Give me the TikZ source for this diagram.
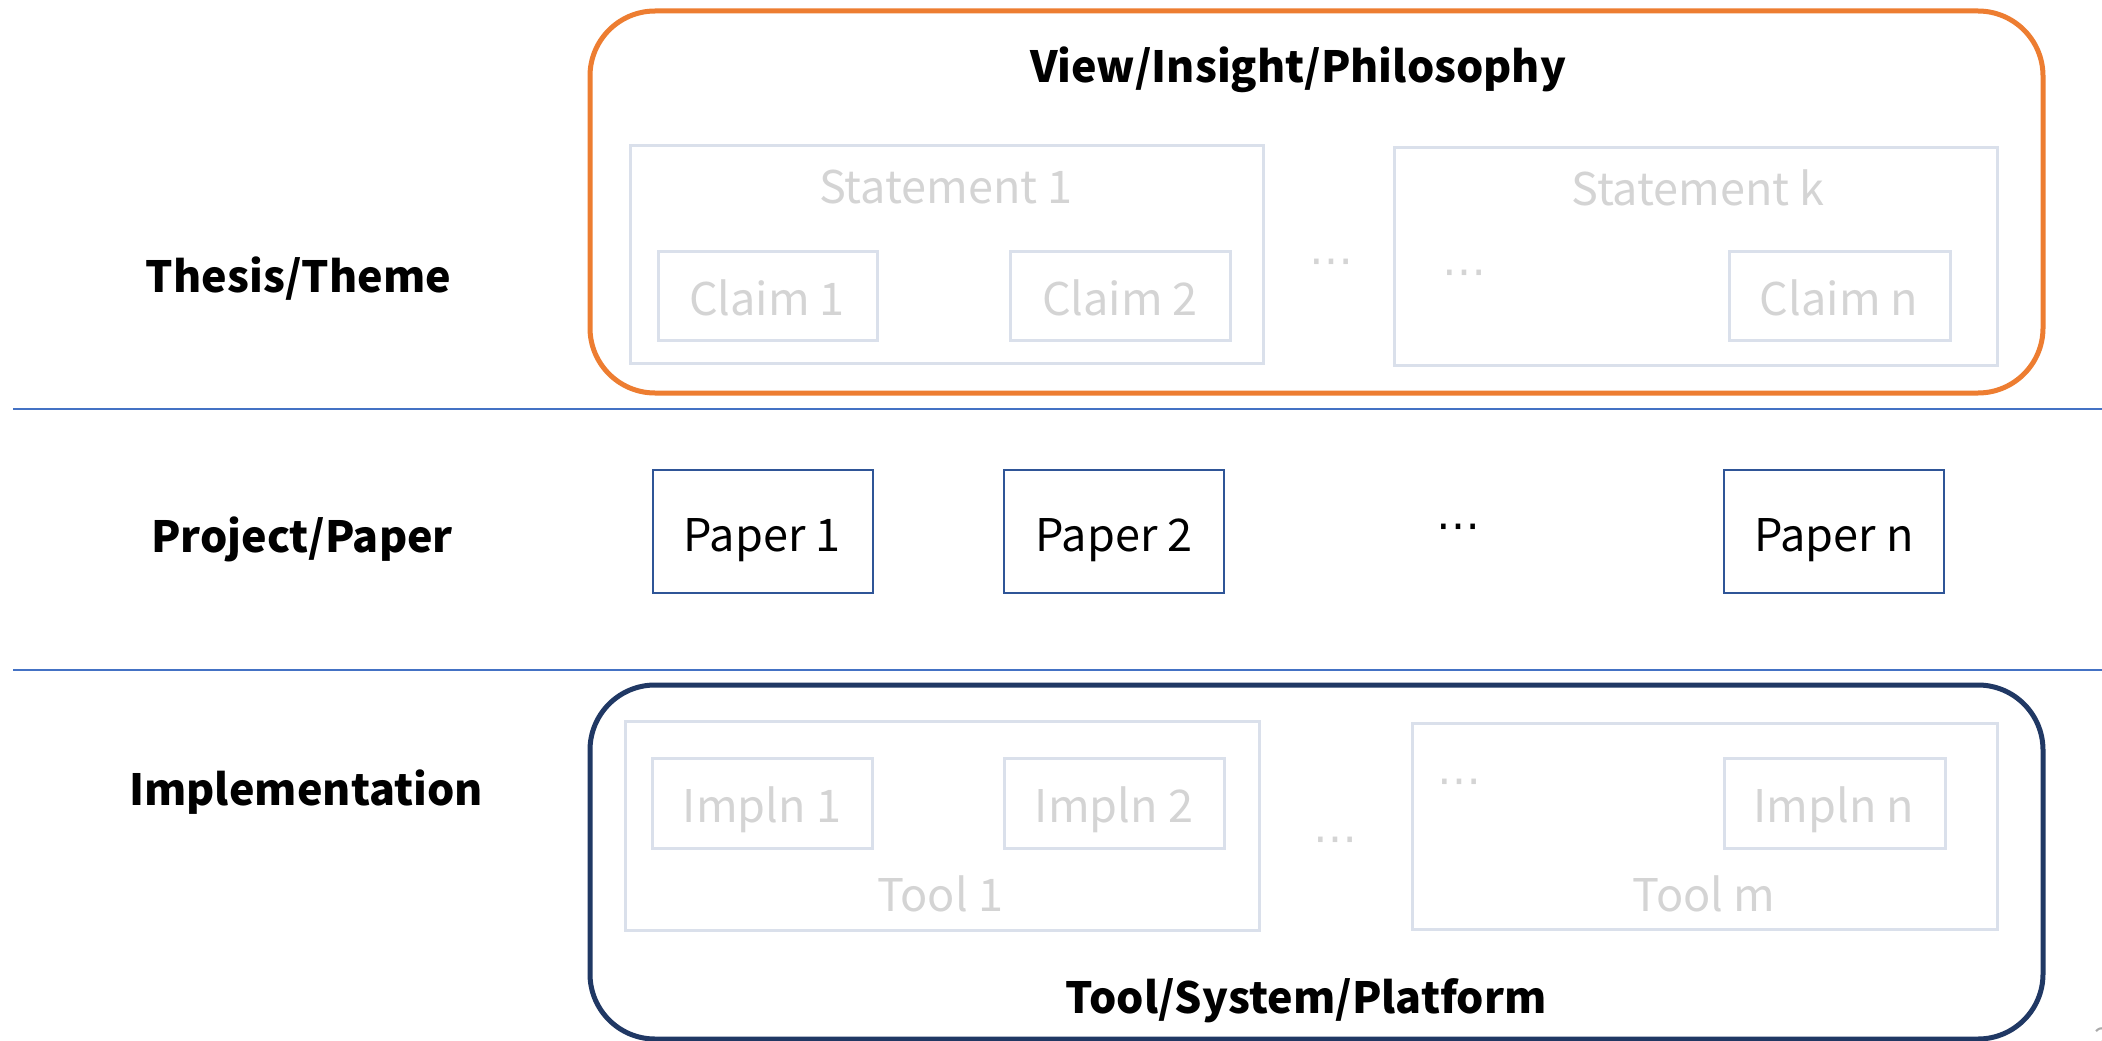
\documentclass[tikz,border=0pt]{standalone}
\usepackage{fontspec}
\setmainfont{Noto Sans CJK SC}
\newfontfamily\symfont{DejaVu Sans}
\definecolor{orangeframe}{HTML}{ED7D31}
\definecolor{navyframe}{HTML}{203864}
\definecolor{paperblue}{HTML}{2F5597}
\definecolor{rulerblue}{HTML}{4472C4}
\definecolor{lightbd}{HTML}{DAE0EB}
\definecolor{lighttxt}{HTML}{D4D4D4}
\begin{document}
\begin{tikzpicture}[x=1pt,y=-1pt,
  outerframe/.style={draw, line width=5pt, rounded corners=65pt, inner sep=0pt},
  lightbox/.style={draw=lightbd, line width=3pt, inner sep=0pt},
  paperbox/.style={draw=paperblue, line width=2.5pt, inner sep=0pt},
  ghost/.style={text=lighttxt, font=\fontsize{45}{50}\selectfont, inner sep=0pt, anchor=base},
  heading/.style={font=\bfseries\fontsize{43}{48}\selectfont, inner sep=0pt, anchor=base},
  papertext/.style={font=\fontsize{45}{50}\selectfont, inner sep=0pt, anchor=base},
  ruler/.style={draw=rulerblue, line width=1.8pt},
  dotsmark/.style={font=\symfont\fontsize{44}{44}\selectfont, inner sep=0pt},
  ghostdots/.style={dotsmark, text=lighttxt},
]
\useasboundingbox (0,0) rectangle (2102,1041);
\fill[white] (0,0) rectangle (2102,1041);

% separators
\coordinate (r1a) at (13,409);
\coordinate (r1b) at (2102,409);
\coordinate (r2a) at (13,670);
\coordinate (r2b) at (2102,670);
\draw[ruler] (r1a) -- (r1b);
\draw[ruler] (r2a) -- (r2b);

% left labels
\node[heading] (thesis) at (298.5,292) {Thesis/Theme};
\node[heading] (project) at (302,552) {Project/Paper};
\node[heading] (impl) at (306,805) {Implementation};

% top frame
\node[outerframe, draw=orangeframe, minimum width=1453, minimum height=382] (viewframe) at (1316.5,202) {};
\node[heading] (viewtitle) at (1298,83) {View/Insight/Philosophy};
\node[lightbox, minimum width=633, minimum height=218] (st1box) at (946.5,254) {};
\node[ghost] (st1) at (946,203) {Statement 1};
\node[lightbox, minimum width=219, minimum height=89] (c1box) at (767.5,295.5) {};
\node[ghost] (c1) at (767,315) {Claim 1};
\node[lightbox, minimum width=220, minimum height=89] (c2box) at (1120,295.5) {};
\node[ghost] (c2) at (1120,315) {Claim 2};
\node[ghostdots] (stdots) at (1331,267) {⋯};
\node[lightbox, minimum width=603, minimum height=218] (stkbox) at (1695.5,256) {};
\node[ghost] (stk) at (1698,205) {Statement k};
\node[ghostdots] (stkdots) at (1464,278) {⋯};
\node[lightbox, minimum width=221, minimum height=89] (cnbox) at (1839.5,295.5) {};
\node[ghost] (cn) at (1839,315) {Claim n};

% papers
\node[paperbox, minimum width=220, minimum height=123] (p1box) at (763,531.5) {};
\node[papertext] (p1) at (762,551) {Paper 1};
\node[paperbox, minimum width=220, minimum height=123] (p2box) at (1114,531.5) {};
\node[papertext] (p2) at (1114,551) {Paper 2};
\node[dotsmark] (pdots) at (1458,532) {⋯};
\node[paperbox, minimum width=220, minimum height=123] (pnbox) at (1834,531.5) {};
\node[papertext] (pn) at (1834,551) {Paper n};

% bottom frame
\node[outerframe, draw=navyframe, minimum width=1453, minimum height=354] (toolframe) at (1316.5,862) {};
\node[heading] (tooltitle) at (1306,1013) {Tool/System/Platform};
\node[lightbox, minimum width=634, minimum height=209] (t1box) at (942,825.5) {};
\node[lightbox, minimum width=220, minimum height=90] (i1box) at (762,803) {};
\node[ghost] (i1) at (762,822) {Impln 1};
\node[lightbox, minimum width=220, minimum height=90] (i2box) at (1114,803) {};
\node[ghost] (i2) at (1114,822) {Impln 2};
\node[ghost] (t1) at (940,911) {Tool 1};
\node[ghostdots] (tdots) at (1335,845) {⋯};
\node[lightbox, minimum width=585, minimum height=206] (tmbox) at (1704.5,826) {};
\node[ghostdots] (tmdots) at (1459,787) {⋯};
\node[lightbox, minimum width=221, minimum height=90] (inbox) at (1834.5,803) {};
\node[ghost] (in) at (1834,822) {Impln n};
\node[ghost] (tm) at (1704,911) {Tool m};

% slide number (cut off at the page edge, as in the reference)
\node[text=lighttxt!80!black, font=\fontsize{30}{30}\selectfont, inner sep=0pt, anchor=north west] (pagenum) at (2094,1028) {2};
\end{tikzpicture}
\end{document}
